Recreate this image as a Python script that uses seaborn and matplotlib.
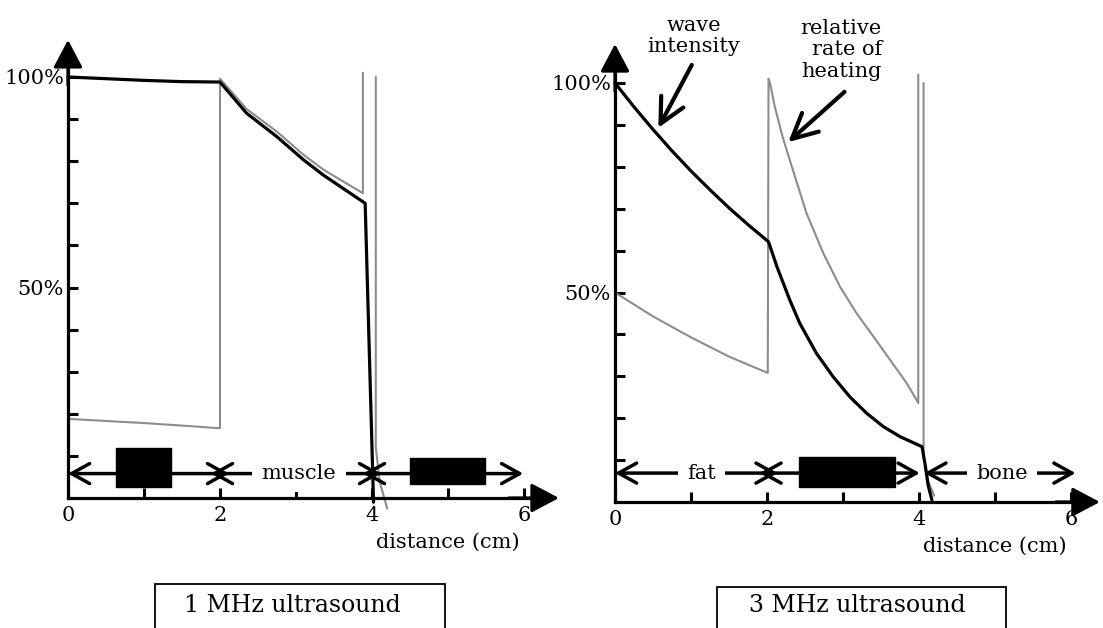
import pandas as pd
import matplotlib.pyplot as plt
import seaborn as sns
from matplotlib.patches import Rectangle

# ---- data (x in cm, y in %) ----
# 1 MHz panel
l_wave_x = [0, 0.5, 1.0, 1.5, 2.0, 2.35, 2.75, 3.1, 3.36, 3.91, 4.02]
l_wave_y = [100, 99.6, 99.2, 98.9, 98.8, 91.4, 85.8, 80.3, 76.7, 70.0, -1]
l_heat_x = [[0, 0.5, 1.0, 1.5, 1.97, 2.0, 2.0, 2.35, 2.75, 3.1, 3.36, 3.88, 3.88],
            [4.05, 4.05, 4.1, 4.2]]
l_heat_y = [[18.8, 18.3, 17.8, 17.2, 16.6, 16.6, 99.6, 92.4, 87.0, 81.5, 78.0, 72.4, 101],
            [100, 12, 4, -2.5]]

# 3 MHz panel
r_wave_x = [0, 0.25, 0.5, 0.75, 1.0, 1.25, 1.5, 1.75, 2.02, 2.13, 2.3, 2.43, 2.65,
            2.87, 3.09, 3.31, 3.53, 3.75, 4.04, 4.08, 4.12, 4.17]
r_wave_y = [100, 94.3, 88.9, 83.8, 79, 74.5, 70.2, 66.2, 62.1, 56.2, 48.2, 42.7, 35.5,
            29.9, 25.1, 21.2, 18.0, 15.6, 13.2, 9, 4, 0.5]
r_heat_x = [[0, 0.5, 1.0, 1.5, 2.01, 2.02, 2.04, 2.1, 2.2, 2.3, 2.52, 2.74, 2.96, 3.18,
             3.4, 3.62, 3.84, 3.97, 3.99, 3.99],
            [4.06, 4.06, 4.12, 4.2]]
r_heat_y = [[50, 44.3, 39.3, 34.7, 30.8, 101, 100, 94.5, 87.5, 81.6, 68.9, 59.4, 51.4, 45.0,
             39.5, 33.9, 28.3, 24.3, 23.6, 102],
            [100, 10.7, 5, 1.5]]

# tissue layers (arrows along the bottom, heads cross at shared boundaries)
l_layers = [(0, 2.12), (1.88, 4.12), (3.88, 5.99)]
l_layer_names = [None, 'muscle', None]
l_name_x = [1.0, 3.04, 5.0]
r_layers = [(0, 2.14), (1.9, 4.01), (4.07, 6.06)]
r_layer_names = ['fat', None, 'bone']
r_name_x = [1.14, 3.05, 5.09]

# blacked-out labels (x0, y0, x1, y1)
l_blocks = [(0.63, 2.6, 1.35, 11.9), (4.5, 3.3, 5.49, 9.5)]
r_blocks = [(2.42, 3.6, 3.68, 10.7)]

W, H = 1103, 628
sns.set_theme(style='white')
plt.rcParams['font.family'] = ['DejaVu Serif']
plt.rcParams['text.color'] = 'black'
fig = plt.figure(figsize=(W / 100, H / 100), dpi=100)

GREY = '0.55'


def frame(xs, ys):
    rows = []
    for i, (sx, sy) in enumerate(zip(xs, ys)):
        for a, b in zip(sx, sy):
            rows.append({'x': a, 'y': b, 'seg': i})
    return pd.DataFrame(rows)


def panel(x0, y0, pxu, pxp, xlim, ylim, wave_x, wave_y, heat_x, heat_y,
          layers, names, name_x, arrow_y, blocks, xarrow, yarrow):
    left = x0 + xlim[0] * pxu
    right = x0 + xlim[1] * pxu
    bot = y0 - ylim[0] * pxp
    top = y0 - ylim[1] * pxp
    ax = fig.add_axes([left / W, (H - bot) / H, (right - left) / W, (bot - top) / H])
    ax.set_xlim(*xlim)
    ax.set_ylim(*ylim)
    ax.patch.set_alpha(0)

    sns.lineplot(data=frame(heat_x, heat_y), x='x', y='y', units='seg', estimator=None,
                 sort=False, color=GREY, lw=1.5, ax=ax)
    sns.lineplot(data=frame([wave_x], [wave_y]), x='x', y='y', units='seg', estimator=None,
                 sort=False, color='black', lw=2.3, ax=ax)

    # axes drawn as arrows through the origin
    for s in ['top', 'right']:
        ax.spines[s].set_visible(False)
    ax.spines['left'].set_position(('data', 0))
    ax.spines['bottom'].set_position(('data', 0))
    ax.spines['left'].set_bounds(0, 103)
    ax.spines['bottom'].set_bounds(0, 6.2)
    for s in ['left', 'bottom']:
        ax.spines[s].set_linewidth(2.3)
        ax.spines[s].set_color('black')
    head = '-|>,head_length=0.85,head_width=0.45'
    ax.annotate('', xy=(0, yarrow), xytext=(0, 98),
                arrowprops=dict(arrowstyle=head, color='black', lw=2.3,
                                shrinkA=0, shrinkB=0, mutation_scale=20))
    ax.annotate('', xy=(xarrow, 0), xytext=(5.8, 0),
                arrowprops=dict(arrowstyle=head, color='black', lw=2.3,
                                shrinkA=0, shrinkB=0, mutation_scale=20))

    ax.set_xticks([0, 2, 4, 6])
    ax.set_xticks([1, 3, 5], minor=True)
    ax.set_yticks([50, 100])
    ax.set_yticklabels(['50%', '100%'])
    ax.set_yticks([10, 20, 30, 40, 60, 70, 80, 90], minor=True)
    ax.tick_params(which='both', direction='in', length=7, width=2.2, color='black',
                   labelsize=15, labelcolor='black', left=True, bottom=True)
    ax.tick_params(axis='x', pad=6)
    ax.tick_params(axis='y', pad=3)
    ax.set_xlabel('')
    ax.set_ylabel('')
    ax.text(4.05, -10.5, 'distance (cm)', fontsize=15, ha='left', va='center')

    # tissue layer arrows
    for (a, b), nm, nx in zip(layers, names, name_x):
        ax.annotate('', xy=(b, arrow_y), xytext=(a, arrow_y),
                    arrowprops=dict(arrowstyle='<->,head_length=0.65,head_width=0.36',
                                    color='black', lw=2.5, shrinkA=0, shrinkB=0,
                                    mutation_scale=20))
        if nm:
            ax.text(nx, arrow_y, nm, fontsize=15, ha='center', va='center',
                    bbox=dict(boxstyle='square,pad=0.45', fc='white', ec='none'))
    for bx0, by0, bx1, by1 in blocks:
        ax.add_patch(Rectangle((bx0, by0), bx1 - bx0, by1 - by0, color='black', zorder=5))
    return ax


axl = panel(68, 498, 76, 4.21, (-0.85, 6.55), (-14, 116), l_wave_x, l_wave_y,
            l_heat_x, l_heat_y, l_layers, l_layer_names, l_name_x, 5.8, l_blocks,
            6.46, 108.8)
axr = panel(615, 502, 76, 4.19, (-0.8, 6.45), (-14, 118), r_wave_x, r_wave_y,
            r_heat_x, r_heat_y, r_layers, r_layer_names, r_name_x, 6.9, r_blocks,
            6.38, 109.3)

# labels on the 3 MHz panel
axr.text(1.04, 111.2, 'wave\nintensity', fontsize=15, ha='center', va='center',
         linespacing=1.15)
axr.text(3.51, 107.9, 'relative\nrate of\nheating', fontsize=15, ha='right',
         va='center', multialignment='right', linespacing=1.15)
lab_arrow = dict(arrowstyle='->,head_length=0.9,head_width=0.45', color='black',
                 lw=3, shrinkA=0, shrinkB=0, mutation_scale=20)
axr.annotate('', xy=(0.57, 89.3), xytext=(1.01, 104.3), arrowprops=lab_arrow)
axr.annotate('', xy=(2.28, 85.9), xytext=(3.02, 97.9), arrowprops=lab_arrow)

# captions in open boxes at the bottom
for x0, x1, ytop, tx, txt in [(155, 445, 584, 292, '1 MHz ultrasound'),
                             (717, 1006, 587, 857, '3 MHz ultrasound')]:
    fig.add_artist(Rectangle((x0 / W, -0.05), (x1 - x0) / W, (H - ytop) / H + 0.05,
                             transform=fig.transFigure, fill=False, ec='black', lw=1.3))
    fig.text(tx / W, (H - 606) / H, txt, fontsize=17, ha='center', va='center')

fig.savefig('out.png', dpi=100)
